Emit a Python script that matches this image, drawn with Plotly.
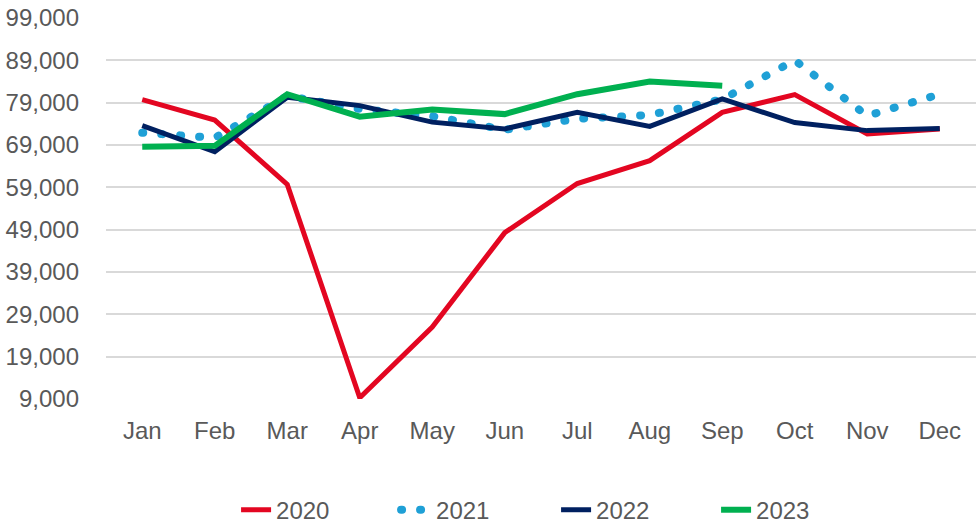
import plotly.graph_objects as go

months = ["Jan", "Feb", "Mar", "Apr", "May", "Jun", "Jul", "Aug", "Sep", "Oct", "Nov", "Dec"]
y2020 = [79700, 74900, 59700, 9300, 26000, 48300, 59900, 65300, 76700, 80900, 71600, 72800]
y2021 = [71900, 70700, 80600, 77500, 75800, 72600, 75200, 76100, 79800, 89000, 75900, 81000]
y2022 = [73600, 67400, 80300, 78300, 74400, 72800, 76700, 73400, 79900, 74300, 72400, 72900]
y2023 = [68600, 68800, 81000, 75700, 77400, 76300, 81000, 84000, 83000]
tick_vals = [9000, 19000, 29000, 39000, 49000, 59000, 69000, 79000, 89000, 99000]
tick_text = ["9,000", "19,000", "29,000", "39,000", "49,000", "59,000", "69,000", "79,000", "89,000", "99,000"]

fig = go.Figure()
fig.add_trace(go.Scatter(x=months, y=y2020, name="2020", mode="lines",
                         line=dict(color="rgb(227,6,33)", width=5)))
fig.add_trace(go.Scatter(x=months, y=y2021, name="2021", mode="lines",
                         line=dict(color="rgb(31,160,214)", width=8, dash="1px,18px")))
fig.add_trace(go.Scatter(x=months, y=y2022, name="2022", mode="lines",
                         line=dict(color="rgb(0,32,96)", width=5)))
fig.add_trace(go.Scatter(x=months[:len(y2023)], y=y2023, name="2023", mode="lines",
                         line=dict(color="rgb(0,176,80)", width=6)))

font = "Liberation Sans, Arial, sans-serif"
fig.update_layout(
    width=979, height=527,
    margin=dict(l=106, r=3, t=18, b=128),
    paper_bgcolor="white", plot_bgcolor="white",
    font=dict(family=font, size=24, color="#595959"),
    showlegend=True,
    legend=dict(orientation="h", xref="container", yref="container",
                x=0.568, xanchor="center", y=0.032, yanchor="middle",
                font=dict(size=24, color="#595959"),
                entrywidth=115, entrywidthmode="pixels"),
    xaxis=dict(type="category", range=[-0.5, 11.5], showgrid=False, showline=False,
               zeroline=False, ticks="", ticklabelstandoff=15,
               tickfont=dict(size=24, color="#595959")),
    yaxis=dict(range=[9000, 99000], tickvals=tick_vals, ticktext=tick_text,
               showgrid=True, gridcolor="#d9d9d9", gridwidth=2, zeroline=False,
               showline=False, ticks="", ticklabelstandoff=26,
               tickfont=dict(size=24, color="#595959")),
)

post = """
var s = document.createElement('style');
s.innerHTML = 'html,body{margin:0;padding:0;overflow:hidden;} path[style*="rgb(31, 160, 214)"]{stroke-linecap:round !important;}';
document.head.appendChild(s);
"""
fig.write_html("out.html", post_script=post, config={"displayModeBar": False})
